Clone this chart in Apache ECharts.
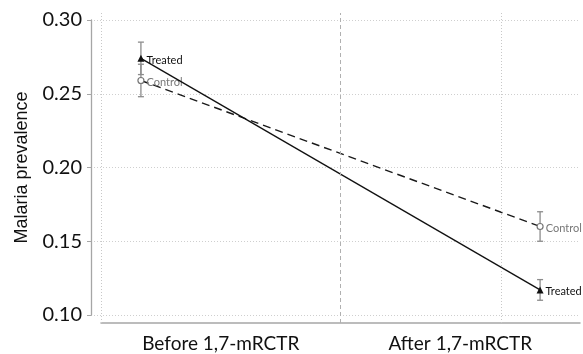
<!DOCTYPE html>
<html>
<head>
<meta charset="utf-8">
<script src="https://cdn.jsdelivr.net/npm/echarts@6/dist/echarts.min.js"></script>
<style>
  html, body { margin: 0; padding: 0; background: #fff; }
  #chart { width: 583px; height: 354px; }
</style>
</head>
<body>
<div id="chart"></div>
<script>
// periods on a 0..2 scale: 0.5 = before, 1.5 = after
const periods = ['Before 1,7-mRCTR', 'After 1,7-mRCTR']
const pointX = [1 / 6, 11 / 6]
const treated = [0.274, 0.117]
const treatedLow = [0.263, 0.110]
const treatedHigh = [0.285, 0.124]
const control = [0.259, 0.160]
const controlLow = [0.248, 0.150]
const controlHigh = [0.270, 0.170]
const yTicks = [0.10, 0.15, 0.20, 0.25, 0.30]

const chart = echarts.init(document.getElementById('chart'))

const errData = []
pointX.forEach((x, i) => {
  errData.push([x, treatedLow[i], treatedHigh[i]])
  errData.push([x, controlLow[i], controlHigh[i]])
})

function errorBar (params, api) {
  const top = api.coord([api.value(0), api.value(2)])
  const bot = api.coord([api.value(0), api.value(1)])
  const w = 3
  const style = { stroke: '#8c8c8c', lineWidth: 1.3 }
  return {
    type: 'group',
    children: [
      { type: 'line', shape: { x1: top[0], y1: top[1], x2: bot[0], y2: bot[1] }, style },
      { type: 'line', shape: { x1: top[0] - w, y1: top[1], x2: top[0] + w, y2: top[1] }, style },
      { type: 'line', shape: { x1: bot[0] - w, y1: bot[1], x2: bot[0] + w, y2: bot[1] }, style }
    ]
  }
}

const pointLabel = (color) => ({
  show: true,
  position: 'right',
  distance: 2,
  offset: [0, 2],
  formatter: '{a}',
  fontFamily: 'Lato',
  fontSize: 11,
  color: color
})

const option = {
  animation: false,
  grid: [
    { left: 91, right: 3, top: 20, bottom: 39 },
    { left: 101, right: 3, top: 13, bottom: 31 }
  ],
  xAxis: [
    { gridIndex: 0, type: 'value', min: 0, max: 1, show: false },
    {
      gridIndex: 1,
      type: 'value',
      min: 0,
      max: 2,
      interval: 0.5,
      axisLine: { show: true, lineStyle: { color: '#a6a6a6', width: 1.5 } },
      axisTick: { show: false },
      splitLine: { show: false },
      axisLabel: {
        margin: 11,
        fontFamily: 'Lato',
        fontSize: 19,
        color: '#111',
        formatter: function (v) {
          if (Math.abs(v - 0.5) < 1e-6) return periods[0]
          if (Math.abs(v - 1.5) < 1e-6) return periods[1]
          return ''
        }
      }
    }
  ],
  yAxis: [
    {
      gridIndex: 0,
      type: 'value',
      min: yTicks[0],
      max: yTicks[yTicks.length - 1],
      interval: 0.05,
      name: 'Malaria prevalence',
      nameLocation: 'middle',
      nameGap: 60,
      nameTextStyle: { fontFamily: 'Liberation Sans', fontSize: 18, color: '#111' },
      axisLine: { show: true, lineStyle: { color: '#a6a6a6', width: 1.3 } },
      axisTick: { show: true, length: 4, lineStyle: { color: '#a6a6a6' } },
      axisLabel: {
        margin: 9,
        fontFamily: 'Lato',
        fontSize: 20,
        color: '#111',
        formatter: v => v.toFixed(2)
      },
      splitLine: { show: true, lineStyle: { color: '#cfcfcf', type: [1, 2], width: 1 } }
    },
    {
      gridIndex: 1,
      type: 'value',
      min: 0.10 - 8 / 1475,
      max: 0.30 + 7 / 1475,
      show: false
    }
  ],
  series: [
    {
      name: 'Control',
      type: 'line',
      xAxisIndex: 1,
      yAxisIndex: 1,
      data: pointX.map((x, i) => [x, control[i]]),
      symbol: 'circle',
      symbolSize: 6,
      itemStyle: { color: '#fff', borderColor: '#777', borderWidth: 1.2 },
      lineStyle: { color: '#1a1a1a', width: 1.4, type: [8, 5] },
      label: pointLabel('#777'),
      markLine: {
        silent: true,
        symbol: 'none',
        label: { show: false },
        lineStyle: { color: '#c8c8c8', type: [1, 2], width: 1 },
        data: [
          { xAxis: 0 },
          { xAxis: 1, lineStyle: { color: '#b0b0b0', type: [4, 3], width: 1 } },
          { xAxis: 5 / 3 }
        ]
      },
      z: 3
    },
    {
      name: 'Treated',
      type: 'line',
      xAxisIndex: 1,
      yAxisIndex: 1,
      data: pointX.map((x, i) => [x, treated[i]]),
      symbol: 'triangle',
      symbolSize: 7,
      itemStyle: { color: '#111' },
      lineStyle: { color: '#111', width: 1.3 },
      label: pointLabel('#111'),
      z: 4
    },
    {
      name: 'CI',
      type: 'custom',
      xAxisIndex: 1,
      yAxisIndex: 1,
      data: errData,
      renderItem: errorBar,
      z: 2
    }
  ]
}

chart.setOption(option)
</script>
</body>
</html>
